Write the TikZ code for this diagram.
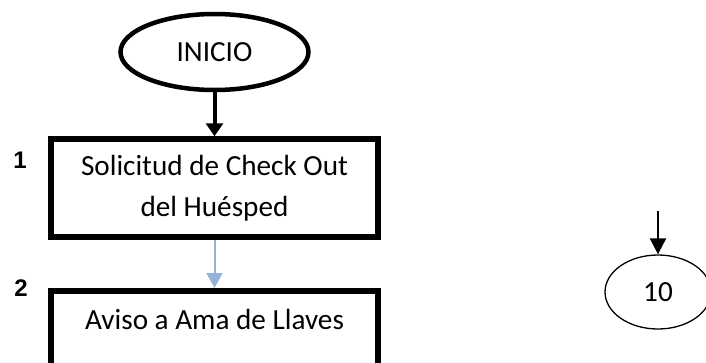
\documentclass[tikz,border=0pt]{standalone}
\usepackage{fontspec}
\setmainfont{Carlito}
\newfontfamily\numfont{Liberation Sans}
\usetikzlibrary{shapes.geometric,arrows.meta}
\definecolor{flowblue}{HTML}{95B3D7}
\begin{document}
\begin{tikzpicture}[x=1pt,y=-1pt,
  every node/.style={font=\fontsize{29.2}{41}\selectfont},
  terminal/.style={draw,ellipse,line width=4.5pt,inner sep=0pt},
  procbox/.style={draw,rectangle,line width=5.5pt,minimum width=327pt,minimum height=98pt,align=center,inner sep=0pt},
  stepnum/.style={font=\fontsize{24}{28}\selectfont\numfont\bfseries},
  mainflow/.style={line width=4pt,-{Triangle[length=13pt,width=17pt]}},
  softflow/.style={flowblue,line width=2pt,-{Triangle[length=15pt,width=16pt]}},
  thinflow/.style={line width=2pt,-{Triangle[length=16pt,width=16pt]}}]
\useasboundingbox (0,0) rectangle (706,362);
\clip (0,0) rectangle (706,362);

% start terminal
\node[terminal,minimum width=188pt,minimum height=76pt] (ini) at (214.5,52) {INICIO};

% process steps
\node[procbox] (b1) at (214.5,188) {Solicitud de Check Out\\del Huésped};
\node[procbox,anchor=north] (b2) at (214.5,288) {Aviso a Ama de Llaves\\\mbox{}};

% step numbers
\node[stepnum] (n1) at (20,160) {1};
\node[stepnum] (n2) at (21,288) {2};

% connector 10
\node[draw,ellipse,line width=1.3pt,minimum width=106pt,minimum height=74pt,inner sep=0pt] (c10) at (658,292) {10};
\coordinate (c10in) at (658,211);

% flow lines
\draw[mainflow] (ini.south) -- (b1.north);
\draw[softflow] (b1.south) -- (b2.north);
\draw[thinflow] (c10in) -- (c10.north);
\end{tikzpicture}
\end{document}
